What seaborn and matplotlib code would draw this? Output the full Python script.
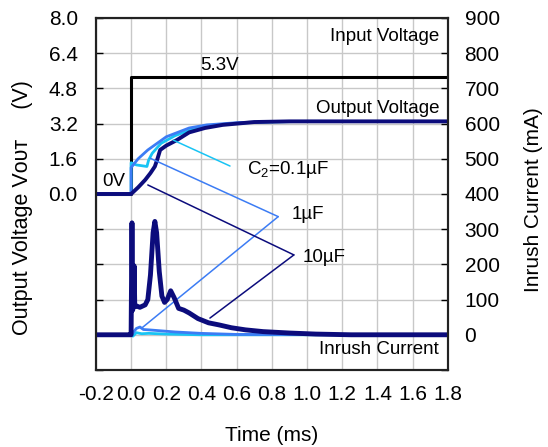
import numpy as np
import pandas as pd
import matplotlib.pyplot as plt
import seaborn as sns

# --------------------------
# Data
# --------------------------
t_in = [-0.2, 0.0, 0.0, 1.8]
v_in = [0.0, 0.0, 5.3, 5.3]

t_out_01 = [-0.2, 0.0, 0.0, 0.03, 0.09, 0.10, 0.12, 0.17, 0.25, 0.35, 0.5, 0.7, 1.0, 1.8]
v_out_01 = [0.0, 0.0, 1.42, 1.32, 1.25, 1.55, 1.85, 2.3, 2.65, 2.95, 3.15, 3.26, 3.3, 3.3]

t_out_1 = [-0.2, 0.0, 0.0, 0.04, 0.095, 0.2, 0.33, 0.43, 0.6, 0.8, 1.0, 1.8]
v_out_1 = [0.0, 0.0, 1.2, 1.6, 2.0, 2.6, 3.0, 3.14, 3.24, 3.29, 3.3, 3.3]

t_out_10 = [-0.2, 0.0, 0.04, 0.08, 0.11, 0.135, 0.15, 0.165, 0.2, 0.26, 0.33,
            0.42, 0.52, 0.7, 0.9, 1.8]
v_out_10 = [0.0, 0.0, 0.3, 0.64, 0.95, 1.25, 1.6, 2.0, 2.2, 2.45, 2.8,
            3.0, 3.14, 3.27, 3.3, 3.3]

t_i_10 = [-0.2, -0.003, 0.0, 0.005, 0.009, 0.013, 0.017, 0.021, 0.03, 0.05, 0.08,
          0.095, 0.11, 0.125, 0.135, 0.145, 0.16, 0.175, 0.19, 0.205, 0.225, 0.245,
          0.27, 0.3, 0.33, 0.38, 0.44, 0.5, 0.57, 0.65, 0.75, 0.9, 1.05, 1.25, 1.8]
i_10 = [0, 0, 0, 318, 70, 90, 196, 80, 82, 78, 85,
        100, 170, 290, 322, 290, 180, 110, 92, 100, 125, 105,
        75, 70, 62, 46, 34, 28, 20, 14, 9, 5, 2, 0, 0]

t_i_1 = [-0.2, 0.0, 0.01, 0.03, 0.05, 0.07, 0.1, 0.15, 0.25, 0.4, 0.6, 1.8]
i_1 = [0, 0, 5, 18, 22, 15, 14, 12, 8, 4, 1, 0]

t_i_01 = [-0.2, 0.0, 0.01, 0.03, 0.06, 0.1, 0.2, 0.4, 1.8]
i_01 = [0, 0, -4, 6, 3, 4, 2, 0, 0]

x_ticks = [-0.2, 0.0, 0.2, 0.4, 0.6, 0.8, 1.0, 1.2, 1.4, 1.6, 1.8]

# --------------------------
# Setup
# --------------------------
sns.set_style("white")
plt.rcParams["font.family"] = ["Liberation Sans", "DejaVu Sans"]
plt.rcParams["mathtext.fontset"] = "custom"
plt.rcParams["mathtext.rm"] = "Liberation Sans"
for key in ("text.color", "axes.labelcolor", "xtick.color", "ytick.color"):
    plt.rcParams[key] = "black"

navy = "#0c0c7c"
blue = "#3c7cf4"
cyan = "#18c4f4"

fig = plt.figure(figsize=(5.48, 4.47), dpi=100)
ax = fig.add_axes([0.175, 0.1723, 0.6423, 0.7875])
ax2 = ax.twinx()

def draw(axis, t, y, color, lw):
    d = pd.DataFrame({"t": t, "y": y})
    sns.lineplot(data=d, x="t", y="y", ax=axis, color=color, lw=lw,
                 estimator=None, sort=False, legend=False)

# voltages (left axis)
draw(ax, t_in, v_in, "black", 2.2)
draw(ax, t_out_01, v_out_01, cyan, 2.0)
draw(ax, t_out_1, v_out_1, blue, 2.0)
draw(ax, t_out_10, v_out_10, navy, 2.8)

# inrush currents (right axis)
draw(ax2, t_i_01, i_01, cyan, 2.0)
draw(ax2, t_i_1, i_1, blue, 2.0)
draw(ax2, t_i_10, i_10, navy, 3.5)

# --------------------------
# Axes
# --------------------------
ax.set_xlim(-0.2, 1.8)
ax.set_ylim(-8.0, 8.0)
ax2.set_ylim(-100, 900)

ax.set_xticks(x_ticks)
ax.set_xticklabels([f"{v:.1f}" for v in x_ticks])
v_ticks = np.linspace(-8.0, 8.0, 11)
ax.set_yticks(v_ticks)
ax.set_yticklabels([f"{v:.1f}" if v > -0.01 else "" for v in v_ticks])
i_ticks = np.arange(-100, 901, 100)
ax2.set_yticks(i_ticks)
ax2.set_yticklabels([str(v) if v >= 0 else "" for v in i_ticks])

ax.grid(True, color="#c8c8c8", lw=1.0)
ax.set_axisbelow(True)

ax.tick_params(axis="x", direction="in", length=5, width=1.0, labelsize=15, pad=11)
ax.tick_params(axis="y", direction="in", length=5, width=1.0, labelsize=15, pad=13)
ax2.tick_params(axis="y", direction="in", length=5, width=1.0, labelsize=15, pad=12)
for a in (ax, ax2):
    for s in a.spines.values():
        s.set_color("#222222")
        s.set_linewidth(1.5)

ax.set_xlabel("Time (ms)", fontsize=15)
ax.xaxis.set_label_coords(0.5, -0.16)
ax.set_ylabel("Output Voltage V\u1d0f\u1d1c\u1d1b     (V)", fontsize=15.5)
ax.yaxis.set_label_coords(-0.178, 0.46)
ax2.set_ylabel("Inrush Current (mA)", fontsize=15)
ax2.yaxis.set_label_coords(1.215, 0.483)

# --------------------------
# Annotations
# --------------------------
fs = 13.5
ax.text(1.75, 7.14, "Input Voltage", ha="right", va="center", fontsize=fs)
ax.text(0.5, 5.86, "5.3V", ha="center", va="center", fontsize=fs)
ax.text(1.75, 3.9, "Output Voltage", ha="right", va="center", fontsize=fs)
ax.text(-0.166, 0.55, "0V", ha="left", va="center", fontsize=fs)
ax.text(1.75, -7.09, "Inrush Current", ha="right", va="center", fontsize=fs)
ax.text(0.658, 1.09, r"C$_\mathregular{2}$=0.1µF", ha="left", va="center", fontsize=fs)
ax.text(0.914, -0.95, "1µF", ha="left", va="center", fontsize=fs)
ax.text(0.976, -2.91, "10µF", ha="left", va="center", fontsize=fs)

def leader(p0, p1, color):
    ax.annotate("", xy=p1, xytext=p0,
                arrowprops=dict(arrowstyle="-", color=color, lw=1.1,
                                shrinkA=0, shrinkB=0))

leader((0.239, 2.45), (0.562, 1.27), cyan)
leader((0.107, 1.63), (0.836, -1.03), blue)
leader((0.836, -1.03), (0.061, -6.09), blue)
leader((0.095, 0.41), (0.925, -2.77), navy)
leader((0.925, -2.77), (0.448, -5.64), navy)

plt.savefig("out.png", dpi=100)
plt.close()
